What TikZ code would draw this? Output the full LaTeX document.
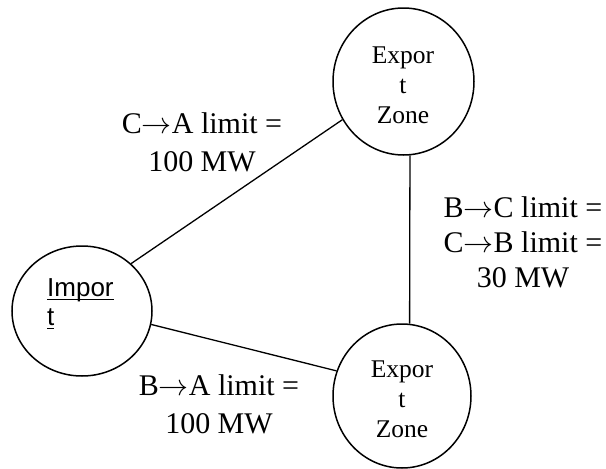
\RequirePackage{fix-cm}
\documentclass[tikz,border=0pt]{standalone}
\usepackage{fontspec}
\setmainfont{Liberation Serif}
\newfontfamily\importfont{Liberation Sans}
\usetikzlibrary{shapes.geometric}
\newcommand\wordul[1]{\setbox0\hbox{#1}\rlap{\rule[-3.5pt]{\wd0}{1.6pt}}\box0}
\newcommand\flowarrow{\ensuremath{\rightarrow}}
\begin{document}
\begin{tikzpicture}[x=1pt,y=-1pt,
  zone/.style={ellipse, draw, line width=1.5pt, inner sep=0pt},
  zonetext/.style={inner sep=0pt, align=center, font=\fontsize{25.5}{30}\selectfont},
  importtext/.style={inner sep=0pt, align=left, font=\importfont\fontsize{26}{29}\selectfont},
  limitlabel/.style={inner sep=0pt, align=center, font=\fontsize{30}{38}\selectfont},
  link/.style={line width=1.3pt}]
\useasboundingbox (0,0) rectangle (606,469);
\node[zone, minimum width=141pt, minimum height=147pt] (top) at (403.5,81.5) {};
\node[zonetext] (toptext) at (403,85) {Expor\\t\\Zone};
\node[zone, minimum width=138pt, minimum height=144pt] (bot) at (402,396) {};
\node[zonetext] (bottext) at (402,399) {Expor\\t\\Zone};
\node[zone, minimum width=140pt, minimum height=130pt] (imp) at (82,311) {};
\node[importtext, anchor=west] (imptext) at (47,304) {\wordul{Impor}\\\wordul{t}};
\draw[link] (imp.44) -- (top.212);
\draw[link] (top.-85) -- (bot.84);
\draw[link] (imp.-11) -- (bot.159);
\node[limitlabel] (ca) at (202,142.5) {C\flowarrow A limit =\\100 MW};
\node[limitlabel, font=\fontsize{30}{35}\selectfont] (bc) at (523,242)
  {B\flowarrow C limit =\\C\flowarrow B limit =\\30 MW};
\node[limitlabel] (ba) at (219,404) {B\flowarrow A limit =\\100 MW};
\end{tikzpicture}
\end{document}
